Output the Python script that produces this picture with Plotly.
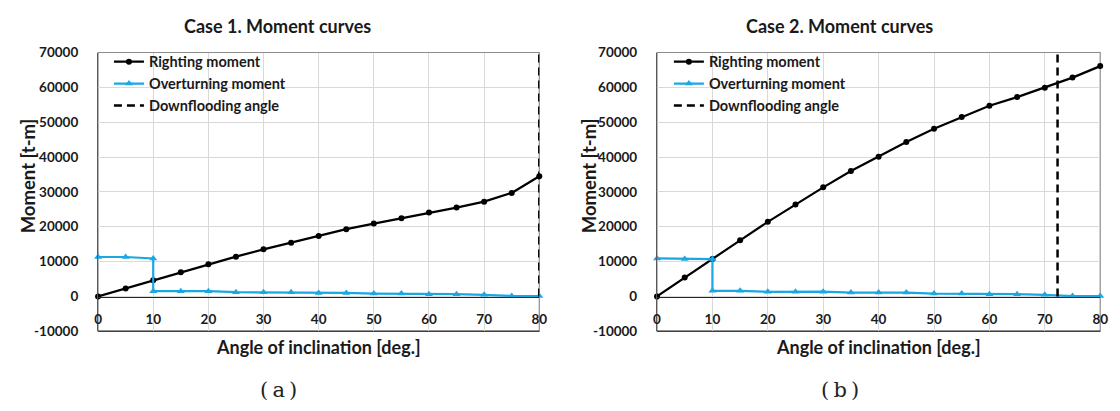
import plotly.graph_objects as go

# ---------------- data ----------------
angles = [0, 5, 10, 15, 20, 25, 30, 35, 40, 45, 50, 55, 60, 65, 70, 75, 80]
angles_ot = [0, 5, 10, 10, 15, 20, 25, 30, 35, 40, 45, 50, 55, 60, 65, 70, 75, 80]

righting_case1 = [0, 2300, 4600, 6900, 9200, 11400, 13500, 15400, 17300, 19300, 20900,
                  22400, 24100, 25500, 27200, 29700, 34500]
overturning_case1 = [11300, 11300, 10900, 1500, 1500, 1500, 1200, 1200, 1200, 1000, 1000,
                     800, 800, 650, 650, 450, 100, 100]
downflood_case1 = 80

righting_case2 = [0, 5450, 10700, 16100, 21400, 26400, 31300, 36000, 40100, 44300, 48100,
                  51500, 54700, 57200, 59900, 62800, 66100]
overturning_case2 = [10900, 10700, 10700, 1600, 1600, 1300, 1300, 1350, 1100, 1100, 1100,
                     800, 800, 650, 650, 450, 100, 100]
downflood_case2 = 72.3

titles = ["Case 1. Moment curves", "Case 2. Moment curves"]
captions = ["(&#8201;a&#8201;)", "(&#8201;b&#8201;)"]
x_title = "Angle of inclination [deg.]"
y_title = "Moment [t-m]"
legend_names = ["Righting moment", "Overturning moment", "Downflooding angle"]
y_ticks = [-10000, 0, 10000, 20000, 30000, 40000, 50000, 60000, 70000]
x_ticks = [0, 10, 20, 30, 40, 50, 60, 70, 80]

# ---------------- layout constants ----------------
W, H = 1120, 411
OFF = 8  # page body margin offset
FONT = "Lato, 'Liberation Sans', Arial, sans-serif"
BLUE = "#1AA7E3"
GRID = "#D9D9D9"
TXT = "#1a1a1a"


def px_x(p):
    return (p - OFF) / W


def px_y(p):
    return (H - (p - OFF)) / H


top_px, bot_px, zero_px = 46, 336, 300
doms_x = [[px_x(95), px_x(541)], [px_x(660), px_x(1108)]]
dom_y = [px_y(bot_px), px_y(top_px)]
zero_pos = px_y(zero_px)

fig = go.Figure()

cases = [
    (righting_case1, overturning_case1, downflood_case1),
    (righting_case2, overturning_case2, downflood_case2),
]

for i, (rm, om, dfa) in enumerate(cases):
    xa = "x" if i == 0 else "x2"
    ya = "y" if i == 0 else "y2"
    lg = "legend" if i == 0 else "legend2"
    fig.add_trace(go.Scatter(
        x=angles, y=rm, mode="lines+markers", name=legend_names[0],
        line=dict(color="black", width=2.2), marker=dict(symbol="circle", size=6, color="black"),
        xaxis=xa, yaxis=ya, legend=lg, legendgroup=f"a{i}", cliponaxis=False))
    fig.add_trace(go.Scatter(
        x=angles_ot, y=om, mode="lines+markers", name=legend_names[1],
        line=dict(color=BLUE, width=2.2), marker=dict(symbol="triangle-up", size=7, color=BLUE),
        xaxis=xa, yaxis=ya, legend=lg, legendgroup=f"b{i}", cliponaxis=False))
    fig.add_trace(go.Scatter(
        x=[dfa, dfa], y=[0, 70000], mode="lines", name=legend_names[2],
        line=dict(color="black", width=2.5, dash="8px,5px"),
        xaxis=xa, yaxis=ya, legend=lg, legendgroup=f"c{i}", cliponaxis=False))

axis_font = dict(family=FONT, size=13.5, color=TXT, weight="bold")

layout = dict(
    width=W, height=H,
    margin=dict(l=0, r=0, t=0, b=0),
    paper_bgcolor="white", plot_bgcolor="white",
    font=dict(family=FONT, color=TXT),
    showlegend=True,
)

for i in range(2):
    xk = "xaxis" if i == 0 else "xaxis2"
    yk = "yaxis" if i == 0 else "yaxis2"
    xa = "x" if i == 0 else "x2"
    layout[xk] = dict(
        domain=doms_x[i], range=[0, 80], anchor="free", position=zero_pos,
        tickvals=x_ticks, ticktext=[str(t) for t in x_ticks],
        showgrid=True, gridcolor=GRID, gridwidth=1,
        showline=True, linecolor="#262626", linewidth=1.3,
        ticks="outside", ticklen=10, tickcolor="rgba(0,0,0,0)",
        tickfont=axis_font, zeroline=False, fixedrange=True,
    )
    layout[yk] = dict(
        domain=dom_y, range=[-10000, 70000], anchor=xa,
        tickvals=y_ticks, ticktext=[str(t) for t in y_ticks],
        showgrid=True, gridcolor=GRID, gridwidth=1,
        showline=True, linecolor="#595959", linewidth=1.2,
        ticks="outside", ticklen=16, tickcolor="rgba(0,0,0,0)",
        tickfont=axis_font, zeroline=False, fixedrange=True,
    )

legend_common = dict(
    xanchor="left", yanchor="top",
    bgcolor="rgba(0,0,0,0)", borderwidth=0,
    font=dict(family=FONT, size=14.5, color=TXT, weight="bold"),
    itemwidth=30, tracegroupgap=10, traceorder="normal",
)
layout["legend"] = dict(x=px_x(106), y=px_y(39), **legend_common)
layout["legend2"] = dict(x=px_x(672), y=px_y(39), **legend_common)

shapes = []
annotations = []
title_cx = [276, 844]
xt_cx = [318, 884]
cap_cx = [277, 845]
yt_cx = [24, 591]
for i in range(2):
    xa = "x" if i == 0 else "x2"
    ya = "y" if i == 0 else "y2"
    shapes.append(dict(type="rect", xref=f"{xa} domain", yref=f"{ya} domain",
                       x0=0, x1=1, y0=0, y1=1, line=dict(color="#8c8c8c", width=1.2),
                       layer="below"))
    shapes.append(dict(type="line", xref=f"{xa} domain", yref=f"{ya} domain",
                       x0=0, x1=1, y0=0, y1=0, line=dict(color="#404040", width=1.3),
                       layer="below"))
    annotations.append(dict(text=f"<b>{titles[i]}</b>", x=px_x(title_cx[i]), y=px_y(18),
                            xref="paper", yref="paper", showarrow=False,
                            xanchor="center", yanchor="middle",
                            font=dict(family=FONT, size=18, color=TXT)))
    annotations.append(dict(text=f"<b>{x_title}</b>", x=px_x(xt_cx[i]), y=px_y(352),
                            xref="paper", yref="paper", showarrow=False,
                            xanchor="center", yanchor="middle",
                            font=dict(family=FONT, size=18, color=TXT)))
    annotations.append(dict(text=f"<b>{y_title}</b>", x=px_x(yt_cx[i]), y=px_y(174),
                            xref="paper", yref="paper", showarrow=False, textangle=-90,
                            xanchor="center", yanchor="middle",
                            font=dict(family=FONT, size=18.5, color=TXT)))
    annotations.append(dict(text=captions[i], x=px_x(cap_cx[i]), y=px_y(397),
                            xref="paper", yref="paper", showarrow=False,
                            xanchor="center", yanchor="middle",
                            font=dict(family="'DejaVu Serif', serif", size=21, color="#222")))

layout["shapes"] = shapes
layout["annotations"] = annotations
fig.update_layout(**layout)

fig.write_html("out.html")
